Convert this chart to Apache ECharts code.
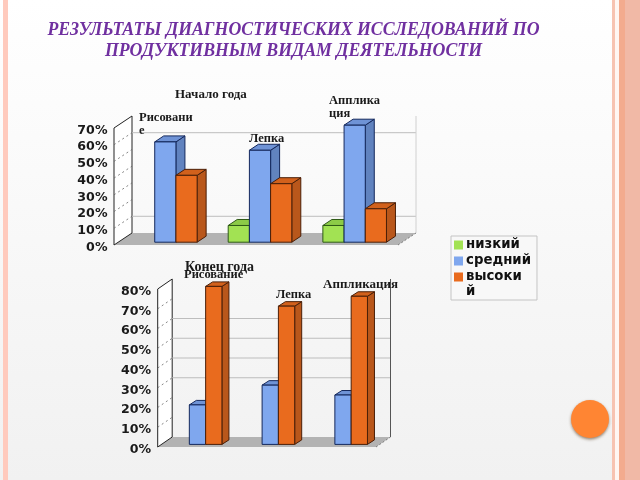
<!DOCTYPE html>
<html><head><meta charset="utf-8">
<style>html,body{margin:0;padding:0;width:640px;height:480px;overflow:hidden;background:#fff}#c{width:640px;height:480px}</style>
<script src="https://cdn.jsdelivr.net/npm/echarts@6/dist/echarts.min.js"></script>
</head><body><div id="c"></div>
<script>
const titleLines = ['РЕЗУЛЬТАТЫ ДИАГНОСТИЧЕСКИХ ИССЛЕДОВАНИЙ ПО', 'ПРОДУКТИВНЫМ ВИДАМ ДЕЯТЕЛЬНОСТИ'];
const categories = ['Рисование', 'Лепка', 'Аппликация'];
const seriesNames = ['низкий', 'средний', 'высокий'];
const startTitle = 'Начало года';
const endTitle = 'Конец года';
const startLow = [0, 10, 10];
const startMid = [60, 55, 70];
const startHigh = [40, 35, 20];
const endLow = [0, 0, 0];
const endMid = [20, 30, 25];
const endHigh = [80, 70, 75];
const startTicks = [0, 10, 20, 30, 40, 50, 60, 70];
const endTicks = [0, 10, 20, 30, 40, 50, 60, 70, 80];
const startGridLines = [10, 60];
const endGridLines = [30, 40, 50, 60];

const palette = [
  {front:'#a2e253', side:'#7fb340', top:'#8ccb47', line:'#2f5a17'},
  {front:'#7fa7ee', side:'#6183bf', top:'#6f93d6', line:'#14285c'},
  {front:'#e96b1e', side:'#b9571b', top:'#d2611c', line:'#4a1f08'}
];
const G1 = {bw:21.2, dep:[9,-6], shift:[4,-2.8], back:[18,-12]};
const G2 = {bw:16.3, dep:[7,-4.5], shift:[3.4,-2.6], back:[14.5,-10]};

const poly = (pts, fill, stroke, lw) => ({type:'polygon', shape:{points:pts},
  style:{fill, stroke: stroke || null, lineWidth: lw === undefined ? 1 : lw}});

function barRender(slot, g){
  const c = palette[slot];
  return function(params, api){
    const v = api.value(1);
    if (!v) return null;
    const i = api.value(0);
    const top = api.coord([i, v]);
    const bot = api.coord([i, 0]);
    const x0 = top[0] + g.shift[0] + (slot - 1.5) * g.bw;
    const x1 = x0 + g.bw;
    const y0 = top[1] + g.shift[1];
    const y1 = bot[1] + g.shift[1];
    const dx = g.dep[0], dy = g.dep[1];
    return {type:'group', children:[
      poly([[x1,y0],[x1+dx,y0+dy],[x1+dx,y1+dy],[x1,y1]], c.side, c.line),
      poly([[x0,y0],[x0+dx,y0+dy],[x1+dx,y0+dy],[x1,y0]], c.top, c.line),
      poly([[x0,y0],[x1,y0],[x1,y1],[x0,y1]], c.front, c.line)
    ]};
  };
}
function frameRender(g, ticks, lines, rightColor){
  return function(params, api){
    if (params.dataIndex !== 0) return null;
    const r = params.coordSys;
    const bx = g.back[0], by = g.back[1];
    const x0 = r.x, x1 = r.x + r.width, yb = r.y + r.height, yt = r.y;
    const kids = [];
    kids.push(poly([[x0,yb],[x0+bx,yb+by],[x1+bx,yb+by],[x1,yb]], '#b3b3b3', null, 0));
    kids.push(poly([[x0,yb],[x0,yt],[x0+bx,yt+by],[x0+bx,yb+by]], '#ffffff', '#222222', 1));
    lines.forEach(v => {
      const p = api.coord([0, v]);
      kids.push({type:'line', shape:{x1:x0+bx, y1:p[1]+by, x2:x1+bx, y2:p[1]+by},
        style:{stroke:'#bdbdbd', lineWidth:1}});
    });
    ticks.slice(1, -1).forEach(v => {
      const p = api.coord([0, v]);
      kids.push({type:'line', shape:{x1:x0, y1:p[1], x2:x0+bx, y2:p[1]+by},
        style:{stroke:'#666666', lineWidth:0.8, lineDash:[2,3]}});
    });
    kids.push({type:'line', shape:{x1:x1+bx, y1:yb+by, x2:x1+bx, y2:yt+by},
      style:{stroke:rightColor, lineWidth:1}});
    kids.push({type:'line', shape:{x1:x1, y1:yb, x2:x1+bx, y2:yb+by},
      style:{stroke:'#666666', lineWidth:0.8, lineDash:[2,2]}});
    return {type:'group', children:kids};
  };
}
function barSeries(name, slot, vals, gi, g){
  return {type:'custom', name, xAxisIndex:gi, yAxisIndex:gi, z:3+slot, clip:false,
    itemStyle:{color:palette[slot].front},
    renderItem:barRender(slot, g), encode:{x:0,y:1},
    data:vals.map((v,i)=>[i,v])};
}
function frameSeries(gi, g, ticks, lines, rc){
  return {type:'custom', name:'frame'+gi, xAxisIndex:gi, yAxisIndex:gi, z:1, clip:false, silent:true,
    renderItem:frameRender(g, ticks, lines, rc), encode:{x:0,y:1},
    data:ticks.map(v=>[0,v])};
}
function axes(gi, maxV){
  return {
    x:{type:'category', gridIndex:gi, data:categories, axisLine:{show:false}, axisTick:{show:false}, axisLabel:{show:false}, splitLine:{show:false}},
    y:{type:'value', gridIndex:gi, min:0, max:maxV, interval:10, splitLine:{show:false}, axisLine:{show:false}, axisTick:{show:false},
       axisLabel:{formatter:'{value}%', margin:6.5, verticalAlign:'top', lineHeight:5, color:'#1a1a1a', fontFamily:'DejaVu Sans', fontWeight:'bold', fontSize:12.6}}
  };
}
const a1 = axes(0,70), a2 = axes(1,80);
const serif = (text,x,y,size) => ({type:'text', z:20, x, y, style:{text, x:0, y:0, fill:'#1a1a1a',
  font:'bold '+size+'px "Liberation Serif"', align:'left', verticalAlign:'middle', lineHeight:13}});
const strip = (x,w,fill) => ({type:'rect', z:-5, shape:{x,y:0,width:w,height:480}, style:{fill}});

const chart = echarts.init(document.getElementById('c'), null, {renderer:'canvas'});
chart.setOption({
  animation:false,
  backgroundColor:{type:'linear',x:0,y:0,x2:0,y2:1,colorStops:[{offset:0,color:'#ffffff'},{offset:1,color:'#f1f1f1'}]},
  grid:[
    {left:114, right:640-398, top:128, bottom:480-245, containLabel:false},
    {left:157.7, right:640-376, top:289, bottom:480-447, containLabel:false}
  ],
  xAxis:[a1.x,a2.x], yAxis:[a1.y,a2.y],
  legend:{
    data:seriesNames, left:451, top:236, orient:'vertical', icon:'rect', itemWidth:9, itemHeight:9, itemGap:0,
    padding:[1,6,15,3], backgroundColor:'#f8f8f8', borderColor:'#c4c4c4', borderWidth:1, selectedMode:false,
    textStyle:{fontFamily:'DejaVu Sans', fontWeight:'bold', fontSize:13.3, color:'#111', padding:[0,0,0,-2], lineHeight:16},
    formatter:n => n === seriesNames[2] ? n.slice(0,6) : n
  },
  graphic:[
    strip(3,5,'#ffcabd'),
    strip(612,3,'#f7c3b1'), strip(615,4,'#fff6f2'), strip(619,6,'#f3ab8e'), strip(625,15,'#f1b9a6'),
    {type:'text', z:20, x:293.5, y:30.5, style:{text:titleLines[0], fill:'#7030a0', align:'center', verticalAlign:'middle',
      font:'italic bold 17.8px "Liberation Serif"'}},
    {type:'text', z:20, x:293.5, y:51.5, style:{text:titleLines[1], fill:'#7030a0', align:'center', verticalAlign:'middle',
      font:'italic bold 17.8px "Liberation Serif"'}},
    {type:'text', z:20, x:466, y:292, style:{text:seriesNames[2].slice(6), fill:'#111', align:'left', verticalAlign:'middle',
      font:'bold 13.3px "DejaVu Sans"'}},
    serif(startTitle,175,95,13),
    serif(categories[0].slice(0,8)+'\n'+categories[0].slice(8),139,124,12.5),
    serif(categories[1],249,139,12.5),
    serif(categories[2].slice(0,7)+'\n'+categories[2].slice(7),329,107.5,12.5),
    serif(endTitle,185,267,14),
    serif(categories[0],184,275,12.5),
    serif(categories[1],276,295,12.5),
    serif(categories[2],323,285,13),
    {type:'circle', z:10, shape:{cx:590,cy:419,r:19}, style:{fill:'#ff8533', shadowBlur:3, shadowColor:'rgba(90,60,30,0.6)', shadowOffsetY:1.5}}
  ],
  series:[
    frameSeries(0,G1,startTicks,startGridLines,'#d0d0d0'),
    barSeries(seriesNames[0],0,startLow,0,G1),
    barSeries(seriesNames[1],1,startMid,0,G1),
    barSeries(seriesNames[2],2,startHigh,0,G1),
    frameSeries(1,G2,endTicks,endGridLines,'#555555'),
    barSeries(seriesNames[0],0,endLow,1,G2),
    barSeries(seriesNames[1],1,endMid,1,G2),
    barSeries(seriesNames[2],2,endHigh,1,G2)
  ]
});
</script></body></html>
